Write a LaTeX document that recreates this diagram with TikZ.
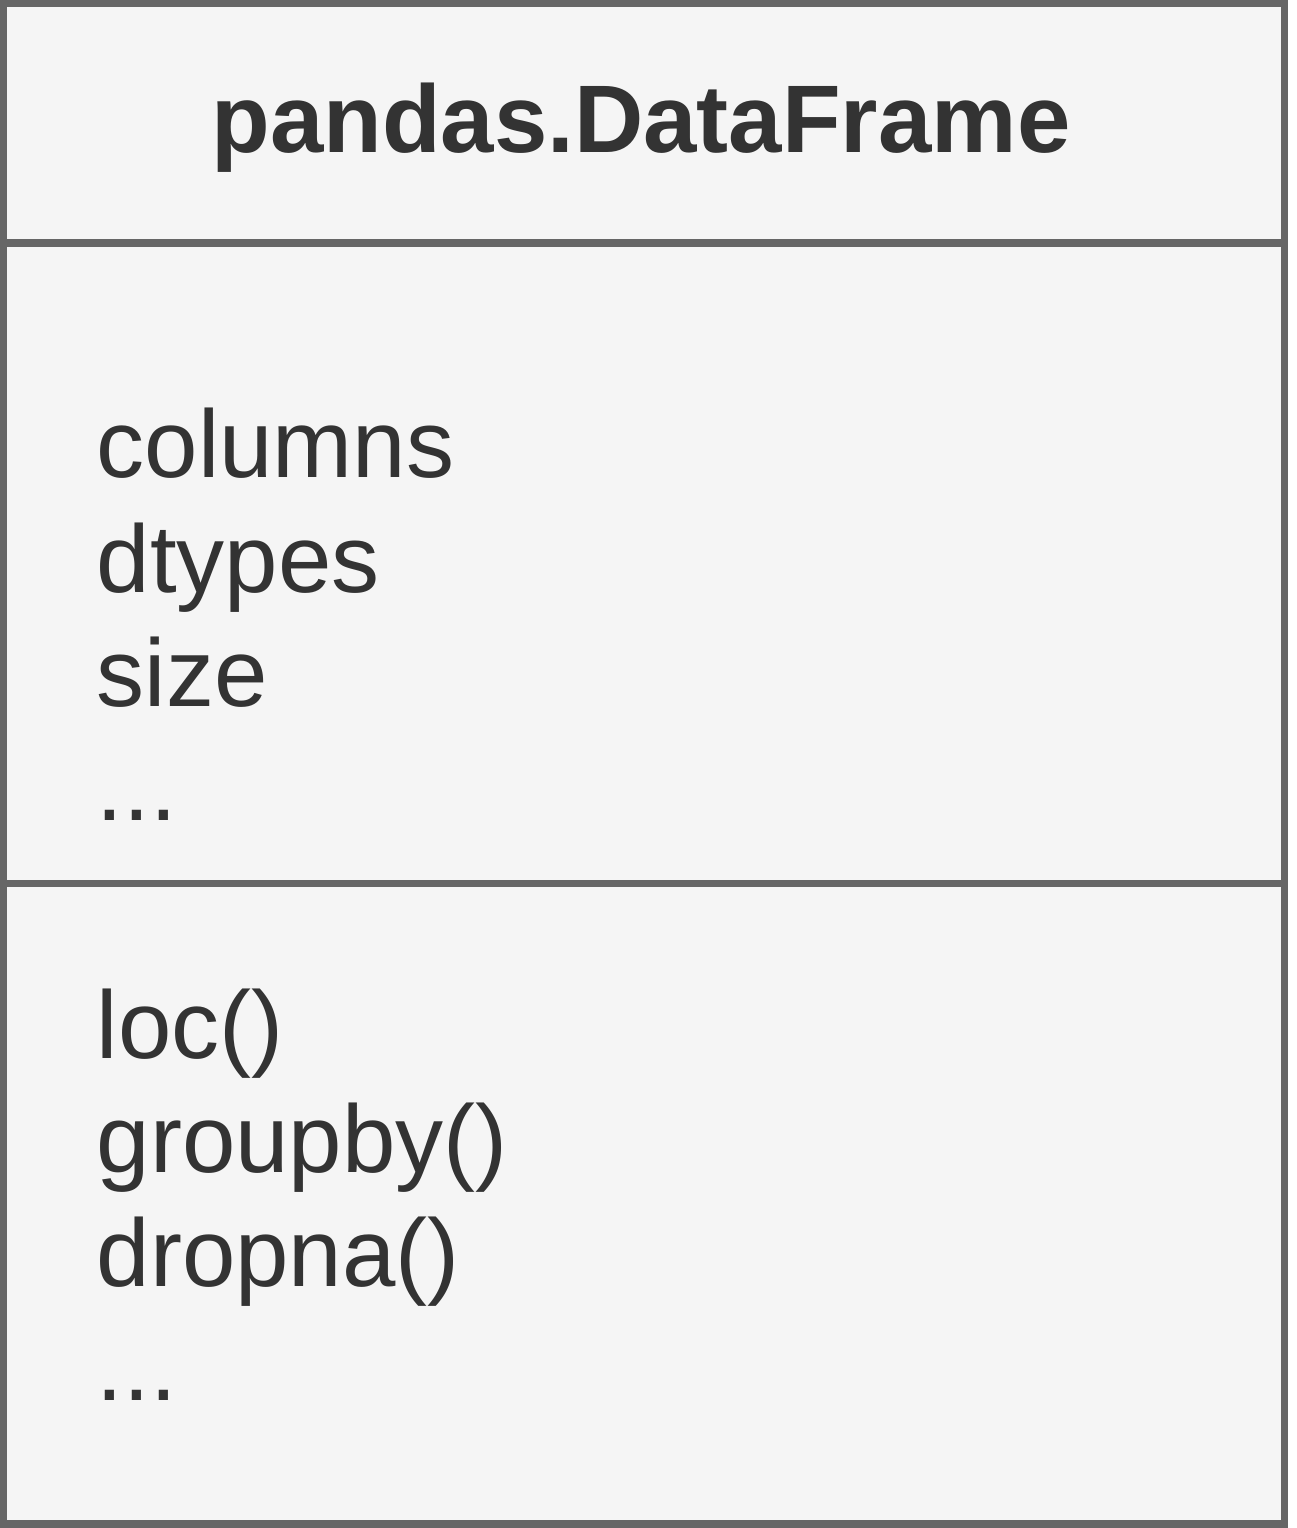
\documentclass[tikz,border=0pt]{standalone}
\usepackage{fontspec}
\setmainfont{Liberation Sans}
\definecolor{umlline}{HTML}{666666}
\definecolor{umlfill}{HTML}{F5F5F5}
\definecolor{umltext}{HTML}{333333}
\usetikzlibrary{positioning}

\begin{document}
\begin{tikzpicture}[
        x=0.01cm, y=-0.01cm,
        part/.style={draw=umlline, fill=umlfill, line width=0.075cm,
                     minimum width=12.80cm, inner sep=0pt, outer sep=0pt},
        member/.style={anchor=base west, inner sep=0pt, text=umltext,
                       font=\fontsize{27.3}{33}\selectfont},
        title/.style={member, anchor=base, font=\fontsize{27.3}{33}\selectfont\bfseries}
      ]
        \useasboundingbox (0,0) rectangle (1296,1528);

        % class box: name, attributes, methods
        \node[part, minimum height=2.395cm, anchor=north west] (head) at (3.5,3.5) {};
        \node[part, minimum height=6.40cm, below=0pt of head] (attrs) {};
        \node[part, minimum height=6.40cm, below=0pt of attrs] (meths) {};

        \node[title] (name) at (641,153) {pandas.DataFrame};

        \node[member] (a1) at (96,478) {columns};
        \node[member] (a2) at (96,592) {dtypes};
        \node[member] (a3) at (96,706) {size};
        \node[member] (a4) at (96,820) {...};

        \node[member] (m1) at (96,1058) {loc()};
        \node[member] (m2) at (96,1172) {groupby()};
        \node[member] (m3) at (96,1286) {dropna()};
        \node[member] (m4) at (96,1400) {...};
      \end{tikzpicture}
\end{document}
